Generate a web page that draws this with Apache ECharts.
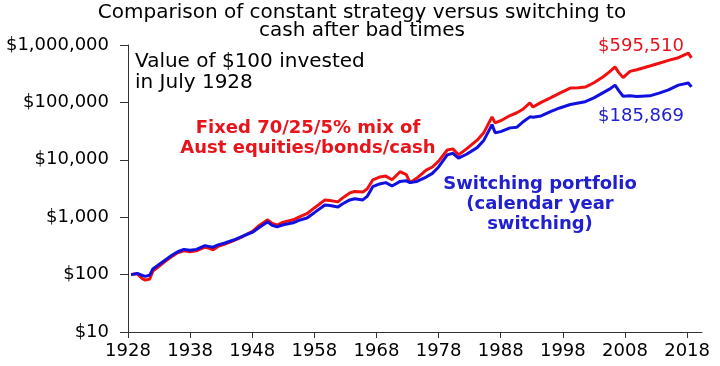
<!DOCTYPE html>
<html>
<head>
<meta charset="utf-8">
<script src="https://cdn.jsdelivr.net/npm/echarts@6/dist/echarts.min.js"></script>
<style>
html,body{margin:0;padding:0;background:#fff;}
#chart{width:720px;height:366px;}
</style>
</head>
<body>
<div id="chart"></div>
<script>
// Years (decimal) for each observation
const years = [1928.5,1929.5,1930.3,1930.8,1931.5,1932.0,1933.0,1934.0,1935.0,1936.0,1937.0,1938.0,1939.0,1940.4,1941.0,1941.7,1942.5,1943.6,1945.0,1946.3,1947.5,1948.1,1949.0,1950.5,1951.2,1952.0,1953.0,1954.6,1955.5,1956.8,1958.0,1959.7,1960.5,1961.8,1962.5,1963.7,1964.5,1965.8,1966.5,1967.4,1968.5,1969.5,1970.5,1971.8,1972.8,1973.4,1974.5,1976.0,1977.0,1978.0,1979.4,1980.3,1981.2,1982.5,1984.2,1985.3,1986.6,1987.1,1988.0,1989.5,1990.6,1991.5,1992.7,1993.2,1994.5,1996.0,1997.5,1999.2,2000.5,2001.6,2003.0,2004.5,2005.5,2006.4,2007.0,2007.7,2008.8,2009.9,2012.0,2013.5,2015.0,2016.6,2018.2,2018.7];
// Fixed 70/25/5% mix (red)
const fixedMix = [100,103,85,80,84,115,140,170,205,240,260,250,260,300,290,270,310,340,390,450,530,570,700,900,780,730,820,900,1000,1150,1450,2000,1950,1850,2150,2650,2800,2760,3100,4450,5000,5200,4500,6200,5500,4000,4800,6600,7500,9500,14800,15500,12200,15500,22000,30000,56000,44000,48000,59000,66000,75000,98000,83000,100000,120000,145000,178000,180000,185000,220000,280000,340000,415000,330000,270000,347000,370000,430000,480000,540000,600000,720000,595510];
// Switching portfolio (blue)
const switching = [100,105,97,93,98,125,150,180,215,250,275,265,275,320,310,300,330,355,400,460,520,550,650,830,720,680,740,800,880,970,1200,1630,1600,1500,1700,2000,2100,2000,2300,3400,3800,4000,3500,4200,4300,4000,4200,5000,5800,7500,12200,13000,10700,12500,16300,22000,41000,29500,31000,36000,37000,45000,56000,55000,58000,69000,80000,92000,98000,103000,120000,148000,170000,200000,160000,128000,130000,127000,130000,145000,165000,200000,218000,185869];
const xTicks = [1928,1938,1948,1958,1968,1978,1988,1998,2008,2018];
const titleText = 'Comparison of constant strategy versus switching to\ncash after bad times';

const FONT = '"DejaVu Sans", sans-serif';
const chart = echarts.init(document.getElementById('chart'), null, {renderer:'canvas'});
const pair = arr => years.map((y,i)=>[y, arr[i]]);
chart.setOption({
  animation:false,
  backgroundColor:'#fff',
  title:{text:titleText,left:362,textAlign:'center',top:4,padding:0,
    textStyle:{fontFamily:FONT,fontSize:20,fontWeight:'normal',color:'#000',lineHeight:18}},
  grid:{left:128,right:18,top:45,bottom:34,containLabel:false},
  xAxis:{type:'value',min:1928,max:2020.4,interval:10,
    axisLine:{lineStyle:{color:'#333',width:1}},
    axisTick:{length:6,customValues:xTicks,lineStyle:{color:'#333'}},
    axisLabel:{customValues:xTicks,margin:10,fontFamily:FONT,fontSize:18,color:'#000',
      formatter:v=>String(Math.round(v))},
    splitLine:{show:false}},
  yAxis:{type:'log',logBase:10,min:10,max:1000000,
    axisLine:{show:true,lineStyle:{color:'#333',width:1}},
    axisTick:{show:true,length:8,lineStyle:{color:'#333'}},
    axisLabel:{margin:19,fontFamily:FONT,fontSize:18,color:'#000',
      formatter:v=>'$'+Math.round(v).toLocaleString('en-US')},
    splitLine:{show:false}},
  series:[
    {name:'Fixed',type:'line',data:pair(fixedMix),showSymbol:false,symbol:'none',
      lineStyle:{color:'#f01010',width:3},z:2},
    {name:'Switching',type:'line',data:pair(switching),showSymbol:false,symbol:'none',
      lineStyle:{color:'#1010e0',width:3},z:3}
  ],
  graphic:[
    {type:'text',left:135,top:51,style:{text:'Value of $100 invested\nin July 1928',
      font:'normal 20px '+FONT,fill:'#000',lineHeight:21}},
    {type:'text',x:308,y:118,style:{text:'Fixed 70/25/5% mix of\nAust equities/bonds/cash',
      font:'bold 18px '+FONT,fill:'#e8141c',lineHeight:20,textAlign:'center',textVerticalAlign:'top'}},
    {type:'text',x:540,y:174,style:{text:'Switching portfolio\n(calendar year\nswitching)',
      font:'bold 18px '+FONT,fill:'#2020d0',lineHeight:20,textAlign:'center',textVerticalAlign:'top'}},
    {type:'text',x:641,y:37,style:{text:'$595,510',
      font:'normal 18px '+FONT,fill:'#e8141c',textAlign:'center',textVerticalAlign:'top'}},
    {type:'text',x:641,y:107,style:{text:'$185,869',
      font:'normal 18px '+FONT,fill:'#2020d0',textAlign:'center',textVerticalAlign:'top'}}
  ]
});
</script>
</body>
</html>
